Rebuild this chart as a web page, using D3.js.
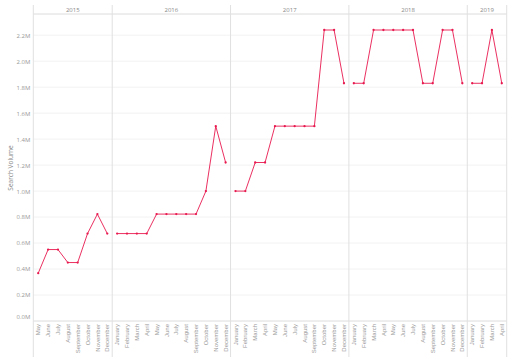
<!DOCTYPE html>
<html>
<head>
<meta charset="utf-8">
<script src="https://cdn.jsdelivr.net/npm/d3@7"></script>
<style>
  html, body { margin: 0; padding: 0; background: #fff; }
  svg { display: block; font-family: "Open Sans", "Noto Sans", sans-serif; }
</style>
</head>
<body>
<svg id="chart" width="512" height="362"></svg>
<script>
// ---- data ----
const years = ["2015", "2016", "2017", "2018", "2019"];
const monthsByYear = [
  ["May","June","July","August","September","October","November","December"],
  ["January","February","March","April","May","June","July","August","September","October","November","December"],
  ["January","February","March","April","May","June","July","August","September","October","November","December"],
  ["January","February","March","April","May","June","July","August","September","October","November","December"],
  ["January","February","March","April"]
];
const volume2015 = [368000, 550000, 550000, 450000, 450000, 673000, 823000, 673000];
const volume2016 = [673000, 673000, 673000, 673000, 823000, 823000, 823000, 823000, 823000, 1000000, 1500000, 1220000];
const volume2017 = [1000000, 1000000, 1220000, 1220000, 1500000, 1500000, 1500000, 1500000, 1500000, 2240000, 2240000, 1830000];
const volume2018 = [1830000, 1830000, 2240000, 2240000, 2240000, 2240000, 2240000, 1830000, 1830000, 2240000, 2240000, 1830000];
const volume2019 = [1830000, 1830000, 2240000, 1830000];
const volumes = [volume2015, volume2016, volume2017, volume2018, volume2019];
const yTicks = [0, 200000, 400000, 600000, 800000, 1000000, 1200000, 1400000, 1600000, 1800000, 2000000, 2200000];

// ---- layout ----
const svg = d3.select("#chart");
const L = { left: 33.3, right: 506.7, top: 5, header: 14, bottom: 321, lineBottom: 357 };
const lineColor = "#e8194f";

const keys = [];
years.forEach((yr, i) => monthsByYear[i].forEach(m => keys.push(yr + "-" + m)));
const x = d3.scaleBand().domain(keys).range([L.left, L.right]).paddingInner(0).paddingOuter(0);
const y = d3.scaleLinear().domain([0, 2200000]).range([L.bottom, 35.2]);

// gridlines
svg.append("g").selectAll("line").data(yTicks.slice(1)).join("line")
  .attr("x1", L.left).attr("x2", L.right)
  .attr("y1", d => y(d)).attr("y2", d => y(d))
  .attr("stroke", "#f2f2f2").attr("stroke-width", 1);

// y axis labels
const yAxis = d3.axisLeft(y).tickValues(yTicks).tickSize(0).tickPadding(3)
  .tickFormat(d => (d / 1e6).toFixed(1) + "M");
const yg = svg.append("g").attr("transform", `translate(${L.left},0)`).call(yAxis);
yg.select(".domain").remove();
yg.selectAll("text").attr("font-size", 6).attr("fill", "#999")
  .attr("dy", d => d === 0 ? "-0.35em" : "0.32em").attr("font-family", "'Open Sans', sans-serif");

// y title
svg.append("text")
  .attr("transform", `translate(13,168) rotate(-90)`)
  .attr("text-anchor", "middle").attr("font-size", 6.5).attr("fill", "#888")
  .text("Search Volume");

// header line and axis line
svg.append("line").attr("x1", L.left).attr("x2", L.right).attr("y1", L.header).attr("y2", L.header)
  .attr("stroke", "#dcdcdc");
svg.append("line").attr("x1", L.left).attr("x2", L.right).attr("y1", L.bottom).attr("y2", L.bottom)
  .attr("stroke", "#dcdcdc");

// panel boundaries
const boundaries = [L.left];
years.forEach((yr, i) => {
  const last = monthsByYear[i][monthsByYear[i].length - 1];
  boundaries.push(x(yr + "-" + last) + x.bandwidth());
});
svg.append("g").selectAll("line").data(boundaries).join("line")
  .attr("x1", d => d).attr("x2", d => d).attr("y1", L.top).attr("y2", L.lineBottom)
  .attr("stroke", "#e0e0e0").attr("stroke-width", 1);

// year labels
svg.append("g").selectAll("text").data(years).join("text")
  .attr("x", (d, i) => (boundaries[i] + boundaries[i + 1]) / 2)
  .attr("y", 11.5)
  .attr("text-anchor", "middle").attr("font-size", 6).attr("fill", "#888")
  .text(d => d);

// x axis month labels
const xAxis = d3.axisBottom(x).tickSize(0).tickPadding(3)
  .tickFormat(d => d.split("-")[1]);
const xg = svg.append("g").attr("transform", `translate(0,${L.bottom})`).call(xAxis);
xg.select(".domain").remove();
xg.selectAll("text")
  .attr("font-size", 6).attr("fill", "#999")
  .attr("transform", "rotate(-90)")
  .attr("text-anchor", "end")
  .attr("x", -3).attr("y", 0).attr("dy", "0.35em");

// series lines per year panel
const line = d3.line().x(d => x(d.key) + x.bandwidth() / 2).y(d => y(d.v));
years.forEach((yr, i) => {
  const pts = monthsByYear[i].map((m, j) => ({ key: yr + "-" + m, v: volumes[i][j] }));
  svg.append("path").datum(pts)
    .attr("d", line).attr("fill", "none")
    .attr("stroke", lineColor).attr("stroke-width", 0.9);
  svg.append("g").selectAll("circle").data(pts).join("circle")
    .attr("cx", d => x(d.key) + x.bandwidth() / 2)
    .attr("cy", d => y(d.v))
    .attr("r", 1.15).attr("fill", lineColor);
});
</script>
</body>
</html>
